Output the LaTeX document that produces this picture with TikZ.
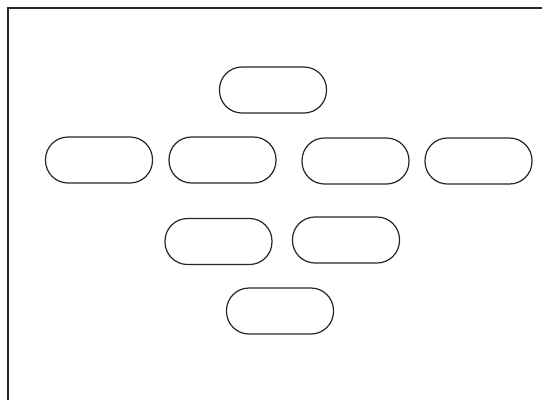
\documentclass[tikz,border=0pt]{standalone}
\begin{document}
\begin{tikzpicture}[x=1pt,y=-1pt,
  pill/.style={draw=black!85, line width=1.2pt, rounded corners=22.5pt, minimum width=107pt, minimum height=46pt, inner sep=0pt},
  frame/.style={draw=black!85, line width=1.4pt}]
\useasboundingbox (0,0) rectangle (542,400);
\coordinate (fa) at (8,400);
\coordinate (fb) at (8,8);
\coordinate (fc) at (542,8);
\draw[frame] (fa) -- (fb) -- (fc);
\node[pill] (n1) at (273,90) {};
\node[pill] (n2) at (99,160) {};
\node[pill] (n3) at (222.5,160) {};
\node[pill] (n4) at (355.5,161) {};
\node[pill] (n5) at (478.5,161) {};
\node[pill] (n6) at (218.5,241.5) {};
\node[pill] (n7) at (346,240) {};
\node[pill] (n8) at (280,311) {};
\end{tikzpicture}
\end{document}
